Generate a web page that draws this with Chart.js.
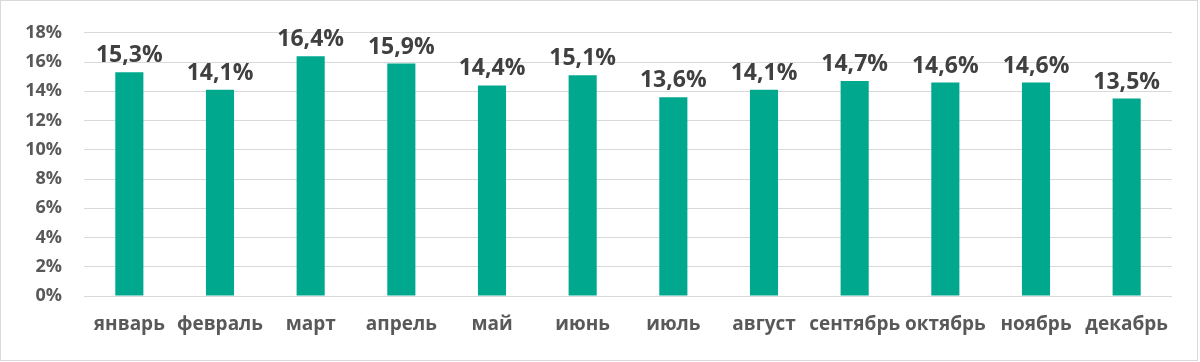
<!DOCTYPE html>
<html>
<head>
<meta charset="utf-8">
<script src="https://cdn.jsdelivr.net/npm/chart.js@4/dist/chart.umd.min.js"></script>
<style>
  body { margin: 0; background: #fff; }
  #wrap { width: 1200px; height: 362px; }
</style>
</head>
<body>
<div id="wrap"><canvas id="chart" width="1200" height="362"></canvas></div>
<script>
// data
var months = ["январь", "февраль", "март", "апрель", "май", "июнь", "июль", "август", "сентябрь", "октябрь", "ноябрь", "декабрь"];
var shares = [15.3, 14.1, 16.4, 15.9, 14.4, 15.1, 13.6, 14.1, 14.7, 14.6, 14.6, 13.5];
var yMin = 0, yMax = 18, yStep = 2;

var fontName = "'Open Sans', 'DejaVu Sans', sans-serif";

// white background + thin frame
var framePlugin = {
  id: "frame",
  beforeDraw: function(chart) {
    var ctx = chart.ctx;
    ctx.save();
    ctx.fillStyle = "#fff";
    ctx.fillRect(0, 0, chart.width, chart.height);
    ctx.strokeStyle = "#d9d9d9";
    ctx.lineWidth = 1;
    ctx.strokeRect(0.5, 0.5, 1197, 360);
    ctx.restore();
  }
};

// value labels above bars
var valueLabels = {
  id: "valueLabels",
  afterDatasetsDraw: function(chart) {
    var ctx = chart.ctx;
    var meta = chart.getDatasetMeta(0);
    ctx.save();
    ctx.font = "bold 23px " + fontName;
    ctx.fillStyle = "#404040";
    ctx.textAlign = "center";
    ctx.textBaseline = "alphabetic";
    meta.data.forEach(function(bar, i) {
      var txt = shares[i].toFixed(1).replace(".", ",") + "%";
      ctx.fillText(txt, bar.x, bar.y - 10);
    });
    ctx.restore();
  }
};

var ctx = document.getElementById("chart");
new Chart(ctx, {
  type: "bar",
  data: {
    labels: months,
    datasets: [{
      data: shares,
      backgroundColor: "#00a88e",
      borderWidth: 0,
      categoryPercentage: 1,
      barPercentage: 0.31
    }]
  },
  options: {
    responsive: false,
    animation: false,
    layout: { padding: { top: 32, right: 28, bottom: 0, left: 0 } },
    plugins: {
      legend: { display: false },
      tooltip: { enabled: false }
    },
    scales: {
      x: {
        grid: { display: false, drawTicks: false },
        border: { display: false },
        ticks: {
          color: "#595959",
          font: { family: fontName, size: 19, weight: "bold" },
          padding: 17,
          maxRotation: 0,
          autoSkip: false
        },
        afterFit: function(scale) { scale.height = 66; }
      },
      y: {
        min: yMin,
        max: yMax,
        grid: { color: "#d9d9d9", lineWidth: 1, drawTicks: false },
        border: { display: false },
        ticks: {
          stepSize: yStep,
          color: "#595959",
          font: { family: fontName, size: 18, weight: "bold" },
          padding: 22,
          callback: function(v) { return v + "%"; }
        },
        afterFit: function(scale) { scale.width = 84; }
      }
    }
  },
  plugins: [framePlugin, valueLabels]
});
</script>
</body>
</html>
